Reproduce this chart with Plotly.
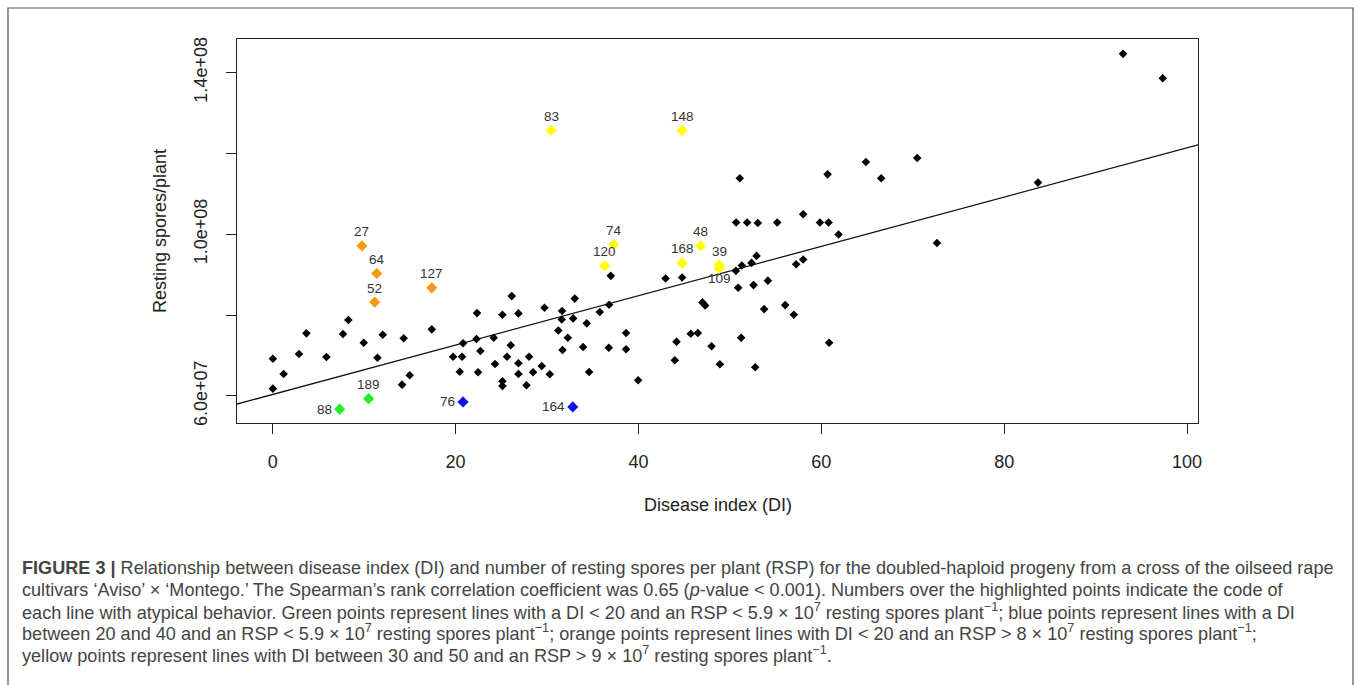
import plotly.graph_objects as go

# ---- data -------------------------------------------------------------
# Disease index (DI) and resting spores per plant (millions) for ordinary lines
di_black = [0.03, 1.20, 0.03, 2.88, 3.69, 5.88, 7.69, 8.28, 9.96, 11.46, 12.04, 14.33,
            14.99, 14.15, 17.40, 22.35, 25.13, 26.88, 26.15, 29.73, 31.62, 31.24, 20.82,
            22.29, 24.18, 26.04, 19.73, 20.71, 22.72, 25.63, 28.04, 20.46, 22.46, 24.32,
            26.88, 29.43, 26.88, 28.48, 30.31, 25.13, 25.13, 27.76,
            51.09, 60.69, 64.88, 50.69, 51.89, 53.06, 55.18, 58.02, 59.85, 60.80, 61.89,
            52.92, 52.37, 51.31, 50.66, 57.25, 58.02, 36.98, 42.97, 44.78, 50.91, 52.59,
            54.16, 33.04,
            31.65, 32.86, 34.35, 35.78, 36.79, 32.28, 31.70, 33.95, 36.76, 38.65, 38.65,
            34.61, 39.97, 44.17, 43.98, 45.73, 46.50, 47.01, 47.30, 48.00, 48.91, 53.75,
            56.05, 57.00, 51.24, 52.77, 60.86,
            93.00, 97.34, 66.55, 70.49, 83.70, 72.65]
rsp_black = [69.21, 65.43, 61.80, 70.37, 75.48, 69.63, 75.31, 78.77, 73.16, 69.46, 75.14, 74.25,
             65.11, 62.79, 76.47, 80.49, 80.07, 80.42, 84.69, 81.80, 78.89, 76.17, 73.01,
             74.07, 74.39, 72.52, 69.70, 69.70, 71.11, 69.70, 69.70, 66.00, 65.85, 67.90,
             68.07, 67.41, 65.43, 65.85, 65.36, 63.63, 62.47, 62.64,
             113.83, 114.81, 117.85, 102.89, 102.89, 102.79, 102.89, 104.94, 102.89, 102.89, 99.93,
             94.64, 92.91, 92.27, 90.94, 92.59, 93.75, 89.70, 89.06, 89.31, 86.74, 87.41,
             88.52, 84.07,
             80.99, 79.18, 77.95, 80.74, 82.54, 74.39, 71.36, 72.10, 71.93, 75.56, 71.53,
             65.93, 63.88, 73.41, 68.81, 75.38, 75.56, 83.14, 82.39, 72.27, 67.83, 81.48,
             82.47, 80.07, 74.39, 67.09, 73.16,
             144.62, 138.59, 113.83, 118.84, 112.77, 97.85]

# Atypical lines: code, DI, RSP (millions)
green_codes = ["88", "189"]
green_di = [7.33, 10.50]
green_rsp = [56.72, 59.33]

blue_codes = ["76", "164"]
blue_di = [20.82, 32.82]
blue_rsp = [58.52, 57.28]

orange_codes = ["27", "64", "52", "127"]
orange_di = [9.77, 11.38, 11.16, 17.40]
orange_rsp = [97.11, 90.30, 83.21, 86.74]

yellow_codes = ["83", "148", "74", "120", "168", "48", "39", "109"]
yellow_di = [30.45, 44.78, 37.31, 36.32, 44.78, 46.79, 48.83, 48.83]
yellow_rsp = [125.68, 125.68, 97.46, 92.17, 92.91, 97.11, 92.35, 91.53]

# Fitted regression line RSP = a + b * DI (millions)
fit_intercept = 60.37
fit_slope = 0.6103

x_ticks = [0, 20, 40, 60, 80, 100]
y_ticks = [60, 80, 100, 120, 140]
y_tick_text = ["6.0e+07", "", "1.0e+08", "", "1.4e+08"]

x_range = [-3.9, 101.2]
y_range = [53.3, 148.3]

caption_lines = [
    "<b>FIGURE 3 |</b> Relationship between disease index (DI) and number of resting spores per plant (RSP) for the doubled-haploid progeny from a cross of the oilseed rape",
    "cultivars ‘Aviso’ × ‘Montego.’ The Spearman’s rank correlation coefficient was 0.65 (<i>p</i>-value &lt; 0.001). Numbers over the highlighted points indicate the code of",
    "each line with atypical behavior. Green points represent lines with a DI &lt; 20 and an RSP &lt; 5.9 × 10<sup>7</sup> resting spores plant<sup>−1</sup>; blue points represent lines with a DI",
    "between 20 and 40 and an RSP &lt; 5.9 × 10<sup>7</sup> resting spores plant<sup>−1</sup>; orange points represent lines with DI &lt; 20 and an RSP &gt; 8 × 10<sup>7</sup> resting spores plant<sup>−1</sup>;",
    "yellow points represent lines with DI between 30 and 50 and an RSP &gt; 9 × 10<sup>7</sup> resting spores plant<sup>−1</sup>.",
]

# ---- layout geometry (pixels) -----------------------------------------
W, H = 1360, 685
L, R, T, B = 237, 1198, 39, 423
PW, PH = R - L, B - T


def px_x(p):
    return (p - L) / PW


def px_y(p):
    return (B - p) / PH


M = 1e6
FONT = "Liberation Sans, Arial, sans-serif"

fig = go.Figure()

# regression line across the full axis range
fig.add_trace(go.Scatter(
    x=x_range,
    y=[(fit_intercept + fit_slope * v) * M for v in x_range],
    mode="lines", line=dict(color="#111111", width=1.3),
    hoverinfo="skip", showlegend=False))

fig.add_trace(go.Scatter(
    x=di_black, y=[v * M for v in rsp_black], mode="markers",
    marker=dict(symbol="diamond", size=6.6, color="black"),
    showlegend=False))

groups = [
    (green_codes, green_di, green_rsp, "#22ee22"),
    (blue_codes, blue_di, blue_rsp, "#1010e6"),
    (orange_codes, orange_di, orange_rsp, "#f59a10"),
    (yellow_codes, yellow_di, yellow_rsp, "#ffff00"),
]
for codes, xs, ys, col in groups:
    fig.add_trace(go.Scatter(
        x=xs, y=[v * M for v in ys], mode="markers",
        marker=dict(symbol="diamond", size=8.6, color=col),
        text=codes, showlegend=False))

# code labels: most sit above the point, a few to the left, one below
left_labels = {"88", "76", "164"}
below_labels = {"109"}
annotations = []
for codes, xs, ys, col in groups:
    for c, xv, yv in zip(codes, xs, ys):
        a = dict(x=xv, y=yv * M, xref="x", yref="y", text=c, showarrow=False,
                 font=dict(family=FONT, size=13.5, color="#333333"))
        if c in left_labels:
            a.update(xanchor="right", yanchor="middle", xshift=-6)
        elif c in below_labels:
            a.update(xanchor="center", yanchor="middle", yshift=-10)
        else:
            a.update(xanchor="center", yanchor="middle", yshift=14)
        annotations.append(a)

# axis titles
annotations.append(dict(x=0.5, y=px_y(505), xref="paper", yref="paper",
                        text="Disease index (DI)", showarrow=False,
                        xanchor="center", yanchor="middle",
                        font=dict(family=FONT, size=18, color="#222222")))
annotations.append(dict(x=px_x(160), y=0.5, xref="paper", yref="paper",
                        text="Resting spores/plant", showarrow=False, textangle=-90,
                        xanchor="center", yanchor="middle",
                        font=dict(family=FONT, size=18, color="#222222")))

# caption
cap_y = [568, 589.5, 611, 632.5, 654]
for line, yp in zip(caption_lines, cap_y):
    annotations.append(dict(x=px_x(20), y=px_y(yp), xref="paper", yref="paper",
                            text=line, showarrow=False, xanchor="left", yanchor="middle",
                            align="left",
                            font=dict(family=FONT, size=18.1, color="#444444")))

fig.update_layout(
    width=W, height=H,
    margin=dict(l=L, r=W - R, t=T, b=H - B, pad=0),
    paper_bgcolor="white", plot_bgcolor="white",
    annotations=annotations,
    shapes=[dict(type="rect", xref="paper", yref="paper",
                 x0=px_x(8), x1=px_x(1353), y0=px_y(8), y1=px_y(720),
                 line=dict(color="#555555", width=1.2), fillcolor="rgba(0,0,0,0)",
                 layer="above")],
    xaxis=dict(range=x_range, tickvals=x_ticks, ticktext=[str(v) for v in x_ticks],
               showgrid=False, zeroline=False, showline=True, mirror=True,
               linecolor="#222222", linewidth=1.3, ticks="outside", ticklen=10,
               tickwidth=1.3, tickcolor="#222222", ticklabelstandoff=12,
               tickfont=dict(family=FONT, size=18, color="#222222")),
    yaxis=dict(range=[v * M for v in y_range], tickvals=[v * M for v in y_ticks],
               ticktext=y_tick_text, tickangle=-90,
               showgrid=False, zeroline=False, showline=True, mirror=True,
               linecolor="#222222", linewidth=1.3, ticks="outside", ticklen=10,
               tickwidth=1.3, tickcolor="#222222", ticklabelstandoff=12,
               tickfont=dict(family=FONT, size=18, color="#222222")),
)

fig.write_html("out.html")
